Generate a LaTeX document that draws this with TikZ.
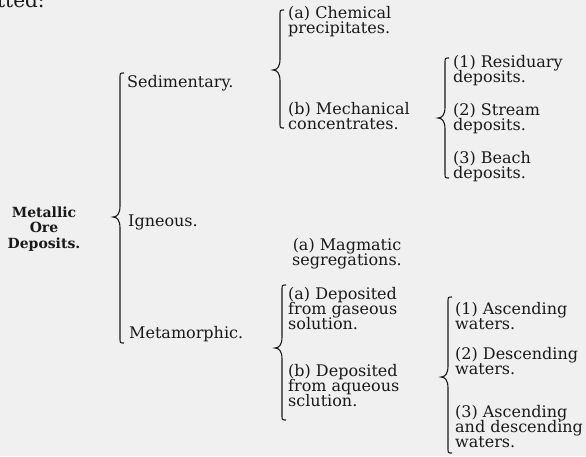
\documentclass[tikz,border=0pt]{standalone}
\usepackage{fontspec}
\setmainfont{DejaVu Serif}
\definecolor{paper}{RGB}{240,240,240}
\definecolor{ink}{RGB}{25,25,25}
% left brace: x of the stem, top, tip, bottom
\newcommand{\groupbrace}[4]{%
  \draw[brace line] (#1+4,#2) .. controls (#1,#2) .. (#1,#2+5)
    -- (#1,#3-11) .. controls (#1,#3-3) and (#1-3,#3) .. (#1-7,#3)
    .. controls (#1-3,#3) and (#1,#3+3) .. (#1,#3+11)
    -- (#1,#4-5) .. controls (#1,#4) .. (#1+4,#4);}

\begin{document}
\begin{tikzpicture}[x=1pt, y=-1pt,
  every node/.style={inner sep=0pt, text=ink},
  entry/.style={anchor=base west, align=left, font={\fontsize{16}{15}\selectfont\lineskiplimit=-100pt}},
  brace line/.style={draw=ink, line width=1.1pt}]
\fill[paper] (0,0) rectangle (586,456);
\useasboundingbox (0,0) rectangle (586,456);

% end of the line above, cut by the edge
\node[anchor=base west, font=\fontsize{20}{20}\selectfont] (prev) at (-3,7) {tted:};

\node[anchor=base, align=center, font={\fontsize{14}{15.5}\selectfont\lineskiplimit=-100pt\bfseries}] (root) at (44,248) {Metallic\\Ore\\Deposits.};

% first level
\node[entry] (sed) at (127,87) {Sedimentary.};
\node[entry] (ign) at (128,226) {Igneous.};
\node[entry] (met) at (129,338) {Metamorphic.};

% second level (anchored on the last line)
\node[entry] (chem) at (288,33) {(a) Chemical\\precipitates.};
\node[entry] (mech) at (288,129) {(b) Mechanical\\concentrates.};
\node[entry, anchor=base, align=center] (magm) at (347,265) {(a) Magmatic\\segregations.};
\node[entry] (gas) at (288,329) {(a) Deposited\\from gaseous\\solution.};
\node[entry] (aqu) at (288,406) {(b) Deposited\\from aqueous\\sclution.};

% third level
\node[entry] (resid) at (453,82) {(1) Residuary\\deposits.};
\node[entry] (stream) at (453,130) {(2) Stream\\deposits.};
\node[entry] (beach) at (453,178) {(3) Beach\\deposits.};
\node[entry] (asc) at (455,329) {(1) Ascending\\waters.};
\node[entry] (desc) at (455,374) {(2) Descending\\waters.};
\node[entry] (both) at (455,447) {(3) Ascending\\and descending\\waters.};

% braces
\groupbrace{120}{73}{217}{343}
\groupbrace{280}{10}{70}{128}
\groupbrace{445}{58}{118}{178}
\groupbrace{282}{285}{348}{420}
\groupbrace{448}{297}{377}{453}
\end{tikzpicture}
\end{document}
